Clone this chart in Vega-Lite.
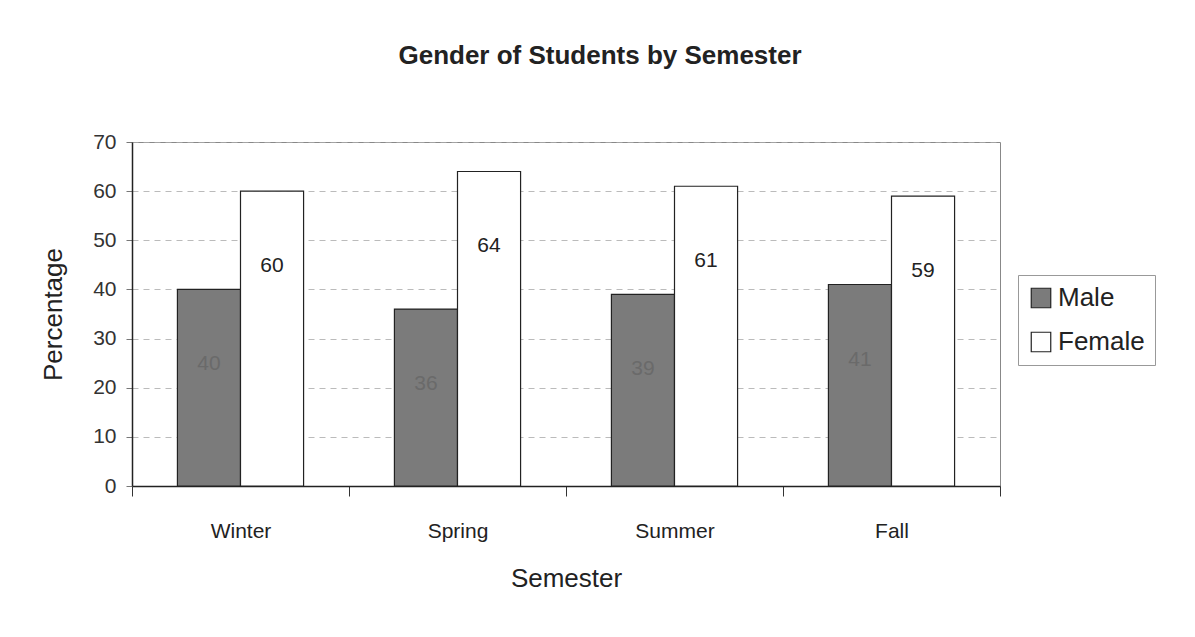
{
  "$schema": "https://vega.github.io/schema/vega-lite/v6.json",
  "autosize": {"type": "none"},
  "width": 868,
  "height": 344,
  "padding": {"left": 132, "top": 142, "right": 195, "bottom": 151},
  "background": "white",
  "config": {
    "font": "Liberation Sans",
    "view": {"stroke": "#888888", "strokeWidth": 1}
  },
  "title": {
    "text": "Gender of Students by Semester",
    "fontSize": 26,
    "fontWeight": "bold",
    "color": "#222222",
    "anchor": "middle",
    "dx": 34,
    "offset": 62
  },
  "data": {
    "values": [
      {"Semester": "Winter", "Gender": "Male", "Percentage": 40},
      {"Semester": "Winter", "Gender": "Female", "Percentage": 60},
      {"Semester": "Spring", "Gender": "Male", "Percentage": 36},
      {"Semester": "Spring", "Gender": "Female", "Percentage": 64},
      {"Semester": "Summer", "Gender": "Male", "Percentage": 39},
      {"Semester": "Summer", "Gender": "Female", "Percentage": 61},
      {"Semester": "Fall", "Gender": "Male", "Percentage": 41},
      {"Semester": "Fall", "Gender": "Female", "Percentage": 59}
    ]
  },
  "encoding": {
    "x": {
      "field": "Semester",
      "type": "nominal",
      "sort": ["Winter", "Spring", "Summer", "Fall"],
      "scale": {"paddingInner": 0, "paddingOuter": 0},
      "axis": {
        "title": "Semester",
        "titleFontSize": 26,
        "titleFontWeight": "normal",
        "titleColor": "#222222",
        "titlePadding": 24,
        "labelAngle": 0,
        "labelFontSize": 21,
        "labelColor": "#222222",
        "labelPadding": 24,
        "tickBand": "extent",
        "tickSize": 10,
        "tickColor": "#333333",
        "domainColor": "#222222",
        "domainWidth": 1.5,
        "grid": false
      }
    },
    "xOffset": {
      "field": "Gender",
      "type": "nominal",
      "sort": ["Male", "Female"],
      "scale": {"paddingInner": 0, "paddingOuter": 0.72}
    },
    "y": {
      "field": "Percentage",
      "type": "quantitative",
      "scale": {"domain": [0, 70]},
      "axis": {
        "title": "Percentage",
        "titleFontSize": 26,
        "titleFontWeight": "normal",
        "titleColor": "#222222",
        "titlePadding": 26,
        "values": [0, 10, 20, 30, 40, 50, 60, 70],
        "labelFontSize": 21,
        "labelColor": "#333333",
        "labelPadding": 10,
        "tickSize": 6,
        "tickColor": "#777777",
        "domainColor": "#222222",
        "domainWidth": 1.5,
        "grid": true,
        "gridColor": "#aaaaaa",
        "gridDash": [6, 5],
        "gridWidth": 0.8
      }
    }
  },
  "layer": [
    {
      "mark": {"type": "bar", "stroke": "#222222", "strokeWidth": 1.2},
      "encoding": {
        "fill": {
          "field": "Gender",
          "type": "nominal",
          "sort": ["Male", "Female"],
          "scale": {"domain": ["Male", "Female"], "range": ["#7b7b7b", "#ffffff"]},
          "legend": {
            "title": null,
            "orient": "none",
            "legendX": 886,
            "legendY": 133,
            "labelFontSize": 26,
            "labelColor": "#222222",
            "symbolType": "square",
            "symbolSize": 380,
            "symbolStrokeColor": "#222222",
            "symbolStrokeWidth": 1.2,
            "rowPadding": 18,
            "strokeColor": "#999999",
            "padding": 10,
            "labelOffset": 4,
            "fillColor": "white"
          }
        }
      }
    },
    {
      "mark": {"type": "text", "fontSize": 21, "baseline": "middle", "dy": 75},
      "encoding": {
        "text": {"field": "Percentage", "type": "quantitative"},
        "color": {
          "field": "Gender",
          "type": "nominal",
          "scale": {"domain": ["Male", "Female"], "range": ["#6a6a6a", "#222222"]},
          "legend": null
        }
      }
    }
  ]
}
